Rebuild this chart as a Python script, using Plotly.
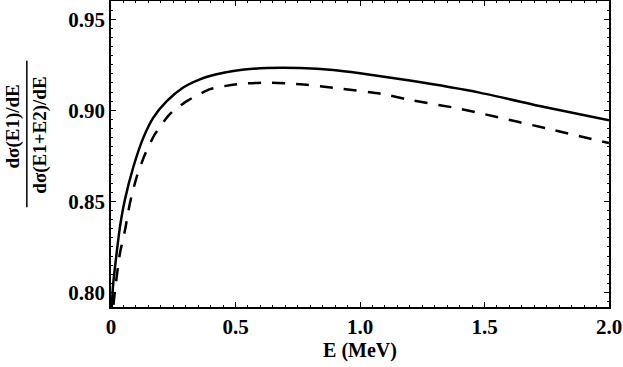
import plotly.graph_objects as go

# energy grid (MeV) and cross-section ratio
E_solid = [0.0, 0.009, 0.023, 0.036, 0.056, 0.09, 0.13, 0.17, 0.224, 0.29,
           0.357, 0.424, 0.491, 0.625, 0.759, 0.893, 1.0, 1.2, 1.48, 1.75, 2.0]
ratio_solid = [0.785, 0.805, 0.822, 0.836, 0.851, 0.869, 0.885, 0.896, 0.905, 0.9125,
               0.917, 0.9198, 0.9216, 0.9232, 0.9232, 0.9221, 0.9203, 0.9163, 0.9097,
               0.9015, 0.8945]

E_dash = [0.0, 0.016, 0.036, 0.056, 0.076, 0.103, 0.137, 0.177, 0.237, 0.304,
          0.398, 0.505, 0.625, 0.759, 0.906, 1.094, 1.187, 1.388, 1.495, 1.776, 2.0]
ratio_dash = [0.78, 0.801, 0.8216, 0.834, 0.849, 0.8633, 0.876, 0.887, 0.898, 0.905,
              0.9116, 0.9143, 0.9152, 0.9143, 0.9121, 0.9089, 0.906, 0.9012, 0.898,
              0.8892, 0.882]

x_ticks = [0, 0.5, 1.0, 1.5, 2.0]
x_ticktext = ["0", "0.5", "1.0", "1.5", "2.0"]
y_ticks = [0.80, 0.85, 0.90, 0.95]
y_ticktext = ["0.80", "0.85", "0.90", "0.95"]

FONT = "Liberation Serif, Times New Roman, serif"

fig = go.Figure()
fig.add_trace(go.Scatter(x=E_solid, y=ratio_solid, mode="lines",
                         line=dict(color="black", width=2.5, shape="spline", smoothing=0.6)))
fig.add_trace(go.Scatter(x=E_dash, y=ratio_dash, mode="lines",
                         line=dict(color="black", width=2.5, dash="13px,11px",
                                   shape="spline", smoothing=0.6)))

axis_common = dict(showline=True, linecolor="black", linewidth=1.5, mirror="ticks",
                   ticks="inside", ticklen=5, tickcolor="black", showgrid=False,
                   zeroline=False, automargin=False,
                   tickfont=dict(family=FONT, size=21, color="black"))

fig.update_xaxes(range=[0, 2.0], tickvals=x_ticks,
                 ticktext=[f"<b>{t}</b>" for t in x_ticktext],
                 minor=dict(dtick=0.05, ticks="inside", ticklen=2.5, tickcolor="black"),
                 title=dict(text="<b>E (MeV)</b>", font=dict(family=FONT, size=20, color="black"),
                            standoff=2),
                 **axis_common)
fig.update_yaxes(range=[0.792, 0.960], tickvals=y_ticks,
                 ticktext=[f"<b>{t}</b>" for t in y_ticktext],
                 minor=dict(dtick=0.005, ticks="inside", ticklen=2.5, tickcolor="black"),
                 **axis_common)

# y label drawn as a fraction
fig.add_annotation(text="<b>dσ(E1)/dE</b>", xref="paper", yref="paper", x=0, y=0.59,
                   xshift=-98, textangle=-90, showarrow=False,
                   xanchor="center", yanchor="middle",
                   font=dict(family=FONT, size=19, color="black"))
fig.add_annotation(text="<b>dσ(E1+E2)/dE</b>", xref="paper", yref="paper", x=0, y=0.56,
                   xshift=-71, textangle=-90, showarrow=False,
                   xanchor="center", yanchor="middle",
                   font=dict(family=FONT, size=19, color="black"))
fig.add_shape(type="line", xref="paper", yref="paper",
              x0=-0.169, x1=-0.169, y0=0.326, y1=0.805,
              line=dict(color="black", width=1.5))

fig.update_layout(width=623, height=367, showlegend=False,
                  plot_bgcolor="white", paper_bgcolor="white",
                  margin=dict(l=111, r=14, t=1, b=60))

# drop the page's default body margin so the figure sits at the window's corner
fig.write_html("out.html", config={"displayModeBar": False},
               post_script="document.body.style.margin='0';")
